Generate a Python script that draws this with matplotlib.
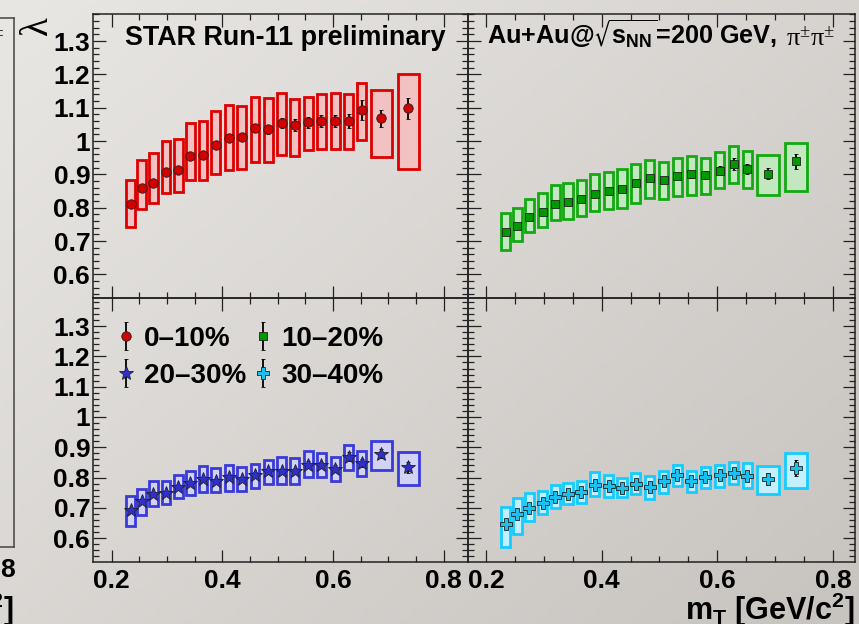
import numpy as np
import matplotlib
matplotlib.use('Agg')
import matplotlib.pyplot as plt
from matplotlib.ticker import FixedLocator, MultipleLocator, FuncFormatter

plt.rcParams['font.family'] = ['Liberation Sans', 'DejaVu Sans']
plt.rcParams['font.weight'] = 'bold'
plt.rcParams['mathtext.default'] = 'regular'

# m_T bin centres [GeV/c^2]
mT = [0.234, 0.254, 0.275, 0.298, 0.320, 0.342, 0.365, 0.388, 0.412, 0.435, 0.459,
      0.483, 0.507, 0.531, 0.555, 0.579, 0.604, 0.628, 0.652, 0.687, 0.736]

# 0-10%
lam_0010 = [0.810, 0.859, 0.875, 0.906, 0.913, 0.955, 0.959, 0.988, 1.008, 1.013, 1.038,
            1.035, 1.055, 1.048, 1.056, 1.059, 1.060, 1.059, 1.092, 1.068, 1.098]
stat_0010 = [0.004, 0.004, 0.004, 0.004, 0.005, 0.005, 0.006, 0.007, 0.008, 0.009, 0.012,
             0.013, 0.015, 0.017, 0.017, 0.018, 0.019, 0.021, 0.030, 0.025, 0.032]
syshi_0010 = [0.883, 0.943, 0.965, 1.001, 1.007, 1.055, 1.060, 1.090, 1.107, 1.106, 1.131,
              1.128, 1.143, 1.125, 1.132, 1.142, 1.145, 1.141, 1.174, 1.152, 1.200]
syslo_0010 = [0.742, 0.795, 0.815, 0.843, 0.847, 0.883, 0.883, 0.900, 0.913, 0.917, 0.938,
              0.937, 0.957, 0.955, 0.972, 0.975, 0.977, 0.977, 1.004, 0.953, 0.915]

# 10-20%
lam_1020 = [0.726, 0.745, 0.771, 0.787, 0.812, 0.817, 0.827, 0.842, 0.849, 0.857, 0.873,
            0.890, 0.882, 0.895, 0.900, 0.897, 0.911, 0.930, 0.916, 0.902, 0.939]
stat_1020 = [0.003, 0.003, 0.003, 0.004, 0.004, 0.004, 0.005, 0.005, 0.006, 0.006, 0.007,
             0.008, 0.009, 0.010, 0.011, 0.012, 0.013, 0.018, 0.014, 0.016, 0.023]
syshi_1020 = [0.783, 0.798, 0.825, 0.843, 0.868, 0.873, 0.883, 0.900, 0.908, 0.916, 0.930,
              0.943, 0.937, 0.950, 0.955, 0.950, 0.966, 0.985, 0.971, 0.957, 0.993]
syslo_1020 = [0.673, 0.700, 0.726, 0.741, 0.763, 0.766, 0.775, 0.790, 0.795, 0.800, 0.813,
              0.829, 0.825, 0.835, 0.838, 0.841, 0.860, 0.875, 0.858, 0.838, 0.851]

# 20-30%
lam_2030 = [0.693, 0.721, 0.746, 0.748, 0.768, 0.781, 0.794, 0.790, 0.801, 0.794, 0.810,
            0.821, 0.820, 0.821, 0.843, 0.841, 0.829, 0.869, 0.849, 0.878, 0.834]
stat_2030 = [0.004, 0.004, 0.004, 0.004, 0.005, 0.005, 0.005, 0.006, 0.006, 0.007, 0.007,
             0.008, 0.009, 0.010, 0.011, 0.011, 0.012, 0.014, 0.013, 0.015, 0.018]
syshi_2030 = [0.738, 0.763, 0.787, 0.788, 0.809, 0.823, 0.837, 0.832, 0.842, 0.836, 0.845,
              0.859, 0.867, 0.865, 0.887, 0.882, 0.869, 0.909, 0.887, 0.921, 0.884]
syslo_2030 = [0.641, 0.675, 0.705, 0.711, 0.732, 0.743, 0.752, 0.751, 0.757, 0.754, 0.766,
              0.777, 0.779, 0.779, 0.803, 0.801, 0.790, 0.826, 0.804, 0.824, 0.774]

# 30-40%
lam_3040 = [0.648, 0.680, 0.700, 0.715, 0.735, 0.746, 0.751, 0.775, 0.771, 0.764, 0.780,
            0.768, 0.787, 0.808, 0.787, 0.801, 0.809, 0.814, 0.805, 0.795, 0.831]
stat_3040 = [0.004, 0.004, 0.004, 0.005, 0.005, 0.005, 0.006, 0.006, 0.007, 0.007, 0.008,
             0.009, 0.010, 0.011, 0.011, 0.013, 0.015, 0.015, 0.016, 0.020, 0.027]
syshi_3040 = [0.702, 0.731, 0.748, 0.755, 0.776, 0.782, 0.788, 0.818, 0.809, 0.797, 0.814,
              0.804, 0.823, 0.842, 0.820, 0.834, 0.843, 0.851, 0.848, 0.837, 0.880]
syslo_3040 = [0.570, 0.612, 0.656, 0.678, 0.699, 0.712, 0.715, 0.738, 0.735, 0.735, 0.746,
              0.730, 0.749, 0.771, 0.752, 0.765, 0.770, 0.779, 0.765, 0.744, 0.767]

labels = ['0\u201310%', '10\u201320%', '20\u201330%', '30\u201340%']

W, H = 859, 624
fig = plt.figure(figsize=(W / 100, H / 100), dpi=100)


def px(x0, y0, x1, y1):
    return [x0 / W, 1 - y1 / H, (x1 - x0) / W, (y1 - y0) / H]


# ROOT-like gradient canvas
bg = fig.add_axes([0, 0, 1, 1], zorder=-10)
yy, xx = np.mgrid[0:1:120j, 0:1:160j]
t = 0.55 * xx + 0.45 * yy
c0 = np.array([233, 231, 228]) / 255
c1 = np.array([199, 195, 191]) / 255
bg.imshow(c0 + (c1 - c0) * t[..., None], aspect='auto', extent=[0, 1, 0, 1])
bg.axis('off')

ax_tl = fig.add_axes(px(93, 14, 468, 298))
ax_tr = fig.add_axes(px(468, 14, 855, 298))
ax_bl = fig.add_axes(px(93, 298, 468, 562))
ax_br = fig.add_axes(px(468, 298, 855, 562))

widths = [0.016] * 19 + [0.038] * 2

series = [
    (ax_tl, lam_0010, stat_0010, syslo_0010, syshi_0010, 'o', '#d40000', '#f2c2c2', '#dd0000', 6.8),
    (ax_tr, lam_1020, stat_1020, syslo_1020, syshi_1020, 's', '#009a00', '#c3e8c0', '#11aa11', 6.3),
    (ax_bl, lam_2030, stat_2030, syslo_2030, syshi_2030, '*', '#3030c8', '#d2d2f4', '#3a3ad8', 10),
    (ax_br, lam_3040, stat_3040, syslo_3040, syshi_3040, 'P', '#19c2ee', '#c4efff', '#14ccff', 8),
]

handles = []
for ax, lam, st, lo, hi, mk, mc, fc, ec, ms in series:
    ax.set_facecolor('none')
    ax.bar(mT, np.array(hi) - np.array(lo), bottom=lo, width=widths,
           facecolor=fc, edgecolor=ec, linewidth=2.0, zorder=2)
    h = ax.errorbar(mT, lam, yerr=st, fmt=mk, color=mc, mec='#202020', mew=0.6,
                    ms=ms, ecolor='black', elinewidth=1.3, capsize=1.5, capthick=1.0,
                    zorder=3)
    handles.append(h)

for ax in (ax_tl, ax_bl):
    ax.set_xlim(0.166, 0.844)
for ax in (ax_tr, ax_br):
    ax.set_xlim(0.169, 0.838)
for ax in (ax_tl, ax_tr):
    ax.set_ylim(0.529, 1.381)
    ax.tick_params(labelbottom=False)
for ax in (ax_bl, ax_br):
    ax.set_ylim(0.521, 1.393)
for ax in (ax_tr, ax_br):
    ax.tick_params(labelleft=False)

fmt = FuncFormatter(lambda v, p: '%g' % round(v, 2))
for ax in (ax_tl, ax_tr, ax_bl, ax_br):
    ax.xaxis.set_major_locator(FixedLocator([0.2, 0.4, 0.6, 0.8]))
    ax.xaxis.set_minor_locator(MultipleLocator(0.05))
    ax.yaxis.set_major_locator(FixedLocator([0.6, 0.7, 0.8, 0.9, 1.0, 1.1, 1.2, 1.3]))
    ax.yaxis.set_minor_locator(MultipleLocator(0.02))
    ax.xaxis.set_major_formatter(fmt)
    ax.yaxis.set_major_formatter(fmt)
    ax.tick_params(which='both', direction='in', top=True, right=True, width=0.9,
                   color='#222222', labelsize=19)
    ax.tick_params(which='major', length=9)
    ax.tick_params(which='minor', length=4.5)
    ax.tick_params(axis='y', pad=2)
    ax.tick_params(axis='x', pad=5)
    for s in ax.spines.values():
        s.set_linewidth(1.1)
        s.set_color('#222222')

# legend in row order: 0-10, 10-20 / 20-30, 30-40
order = [0, 2, 1, 3]
leg = ax_bl.legend([handles[i] for i in order], [labels[i] for i in order], ncol=2,
                   loc='upper left', bbox_to_anchor=(0.062, 0.895), frameon=False,
                   prop={'size': 20, 'weight': 'bold'}, handlelength=0.7,
                   handletextpad=0.3, columnspacing=0.25, labelspacing=0.4,
                   borderpad=0, borderaxespad=0)

# neighbouring (cropped) pad on the far left
ax_left = fig.add_axes(px(-60, 18, 14, 547))
ax_left.set_facecolor('none')
ax_left.set_xticks([])
ax_left.set_yticks([])
for s in ax_left.spines.values():
    s.set_linewidth(1.1)
    s.set_color('#444444')
fig.text(5 / W, 1 - 45 / H, '\u03c0$^{\u00b1}$\u03c0$^{\u00b1}$', ha='right', va='baseline',
         family='Liberation Serif', weight='normal', size=18)
fig.text(16 / W, 1 - 577 / H, '0.8', ha='right', va='baseline', size=19)
fig.text(14 / W, 1 - 620 / H, '[GeV/c$^{2}$]', ha='right', va='baseline', size=22)

# titles
fig.text(125 / W, 1 - 45 / H, 'STAR Run-11 preliminary', ha='left', va='baseline', size=19.4)
t1 = fig.text(487 / W, 1 - 45 / H, 'Au+Au@$\\sqrt{s_{NN}}$=200 GeV,', ha='left',
              va='baseline', size=18.2)
fig.canvas.draw()
x_end = t1.get_window_extent().x1
fig.text((x_end + 9) / W, 1 - 45 / H, '\u03c0$^{\u00b1}$\u03c0$^{\u00b1}$', ha='left',
         va='baseline', family='Liberation Serif', weight='normal', size=19)

fig.text(38 / W, 1 - 26 / H, '\u03bb', rotation=90, ha='center', va='center',
         family='Liberation Serif', weight='normal', size=28)
fig.text(855 / W, 1 - 620 / H, 'm$_{T}$ [GeV/c$^{2}$]', ha='right', va='baseline', size=22)

fig.savefig('out.png', dpi=100)
